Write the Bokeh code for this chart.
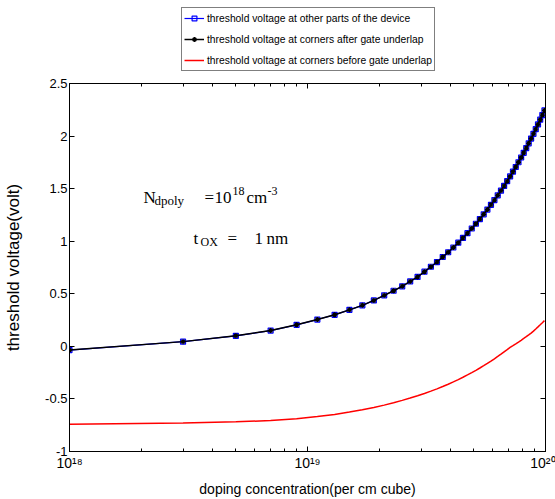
from bokeh.plotting import figure
from bokeh.layouts import column
from bokeh.models import (Range1d, LogAxis, LinearAxis, FixedTicker, Legend,
                          LegendItem, Label)
from bokeh.embed import file_html
from bokeh.resources import INLINE

# ---------------- data ----------------
doping_e18 = [1, 3, 5, 7, 9, 11, 13, 15, 17, 19, 21, 23, 25, 27, 29, 31, 33,
              35, 37, 39, 41, 43, 45, 47, 49, 51, 53, 55, 57, 59, 61, 63, 65,
              67, 69, 71, 73, 75, 77, 79, 81, 83, 85, 87, 89, 91, 93, 95, 97, 99]

vt_other = [-0.035, 0.045, 0.100, 0.150, 0.205, 0.255, 0.300, 0.347, 0.390,
            0.437, 0.485, 0.529, 0.571, 0.618, 0.660, 0.710, 0.757, 0.802,
            0.850, 0.895, 0.940, 0.986, 1.031, 1.076, 1.121, 1.166, 1.211,
            1.256, 1.301, 1.346, 1.391, 1.436, 1.481, 1.526, 1.571, 1.616,
            1.661, 1.706, 1.751, 1.796, 1.841, 1.886, 1.931, 1.976, 2.021,
            2.066, 2.111, 2.156, 2.200, 2.244]

vt_corner_after = [-0.035, 0.045, 0.100, 0.150, 0.205, 0.255, 0.300, 0.347,
                   0.390, 0.437, 0.485, 0.529, 0.571, 0.618, 0.660, 0.710,
                   0.757, 0.802, 0.850, 0.895, 0.940, 0.986, 1.031, 1.076,
                   1.121, 1.166, 1.211, 1.256, 1.301, 1.346, 1.391, 1.436,
                   1.481, 1.526, 1.571, 1.616, 1.661, 1.706, 1.751, 1.796,
                   1.841, 1.886, 1.931, 1.976, 2.021, 2.066, 2.111, 2.156,
                   2.200, 2.244]

vt_corner_before = [-0.740, -0.730, -0.718, -0.705, -0.688, -0.668, -0.647,
                    -0.625, -0.603, -0.581, -0.559, -0.537, -0.514, -0.492,
                    -0.470, -0.448, -0.426, -0.404, -0.382, -0.360, -0.338,
                    -0.316, -0.294, -0.272, -0.250, -0.228, -0.206, -0.184,
                    -0.162, -0.140, -0.118, -0.096, -0.074, -0.052, -0.031,
                    -0.010, 0.007, 0.024, 0.041, 0.058, 0.075, 0.092, 0.109,
                    0.126, 0.145, 0.165, 0.185, 0.205, 0.225, 0.245]

x_ticks = [1e18, 1e19, 1e20]
x_tick_labels = ["10\u00b9\u2078", "10\u00b9\u2079", "10\u00b2\u2070"]
x_minor_ticks = [k * 10.0 ** e for e in (18, 19) for k in range(2, 10)]
y_ticks = [-1, -0.5, 0, 0.5, 1, 1.5, 2, 2.5]
y_tick_labels = ["-1", "-0.5", "0", "0.5", "1", "1.5", "2", "2.5"]

legend_labels = ["threshold voltage at other parts of the device",
                 "threshold voltage at corners after gate underlap",
                 "threshold voltage at corners before gate underlap"]
x_title = "doping concentration(per cm cube)"
y_title = "threshold voltage(volt)"

doping = [d * 1e18 for d in doping_e18]

SANS = "Liberation Sans"
SERIF = "Liberation Serif"

# ---------------- main plot ----------------
p = figure(width=555, height=427, x_axis_type="log",
           x_range=Range1d(1e18, 1e20), y_range=Range1d(-1, 2.5),
           output_backend="svg", toolbar_location=None,
           min_border_left=69, min_border_right=10,
           min_border_top=11, min_border_bottom=48)
p.xgrid.visible = False
p.ygrid.visible = False
p.outline_line_color = "black"
p.outline_line_width = 1
p.background_fill_color = "white"
p.border_fill_color = "white"

xticker = FixedTicker(ticks=x_ticks, minor_ticks=x_minor_ticks)
yticker = FixedTicker(ticks=y_ticks)


def style_axis(ax, show_labels, minor=True):
    ax.axis_line_color = "black"
    ax.axis_line_width = 1
    ax.major_tick_line_color = "black"
    ax.major_tick_in = 5
    ax.major_tick_out = 0
    if minor:
        ax.minor_tick_line_color = "black"
        ax.minor_tick_in = 3
        ax.minor_tick_out = 0
    else:
        ax.minor_tick_line_color = None
    ax.major_label_text_color = "black"
    ax.major_label_text_font = SANS
    ax.major_label_text_font_size = "13px"
    if not show_labels:
        ax.major_label_text_color = None
        ax.major_label_text_alpha = 0
        ax.major_label_text_font_size = "1px"
        ax.major_label_standoff = 0


xa = p.xaxis[0]
xa.ticker = xticker
xa.major_label_overrides = dict(zip(x_ticks, x_tick_labels))
style_axis(xa, True)
xa.major_label_text_font_size = "14px"
xa.major_label_standoff = 3
xa.axis_label = x_title
xa.axis_label_text_font = SANS
xa.axis_label_text_font_size = "14px"
xa.axis_label_text_font_style = "normal"
xa.axis_label_text_color = "black"
xa.axis_label_standoff = 7

ya = p.yaxis[0]
ya.ticker = yticker
ya.major_label_overrides = dict(zip(y_ticks, y_tick_labels))
style_axis(ya, True, minor=False)
ya.major_label_standoff = 2
ya.axis_label = y_title
ya.axis_label_text_font = SANS
ya.axis_label_text_font_size = "17px"
ya.axis_label_text_font_style = "normal"
ya.axis_label_text_color = "black"
ya.axis_label_standoff = 19

top = LogAxis(ticker=xticker)
style_axis(top, False)
p.add_layout(top, "above")

right = LinearAxis(ticker=yticker)
style_axis(right, False, minor=False)
p.add_layout(right, "right")

# ---------------- series ----------------
blue_line = dict(line_color="blue", line_width=1.2)
blue_mark = dict(marker="square", size=5, line_color="blue",
                 fill_color=None, line_width=1.2)
black_line = dict(line_color="black", line_width=1.5)
black_mark = dict(marker="asterisk", size=5, line_color="black",
                  line_width=1.3)
red_line = dict(line_color="red", line_width=1.5)

p.line(doping, vt_other, **blue_line)
p.scatter(doping, vt_other, **blue_mark)
p.line(doping, vt_corner_after, **black_line)
p.scatter(doping, vt_corner_after, **black_mark)
p.line(doping, vt_corner_before, **red_line)

# ---------------- annotation text ----------------
def note(text, dx, dy, size, font=SERIF):
    p.add_layout(Label(x=1e18, y=-1, x_offset=dx, y_offset=dy, text=text,
                       text_font=font, text_font_size=size,
                       text_color="black", text_baseline="alphabetic"))


note("N", 74, 254, "17px")
note("dpoly", 85, 251, "13px")
note("=", 135, 254, "17px")
note("10", 145, 254, "17px")
note("18", 163, 261, "12px")
note("cm", 177, 254, "17px")
note("-3", 198, 261, "12px")

note("t", 124, 213, "17px")
note("OX", 131, 210, "12px")
note("=", 158, 213, "17px")
note("1", 185, 213, "17px")
note("nm", 197, 213, "17px")

# ---------------- legend strip above the axes ----------------
# (the same series are drawn here outside the visible range; only the
#  legend of this strip is visible)
lg = figure(width=555, height=72, x_range=Range1d(0, 1), y_range=Range1d(0, 1),
            output_backend="svg", toolbar_location=None,
            x_axis_location=None, y_axis_location=None,
            min_border=0, outline_line_color=None)
lg.xgrid.visible = False
lg.ygrid.visible = False
lg.border_fill_color = "white"
lg.background_fill_color = "white"
e_bl = lg.line(doping, vt_other, **blue_line)
e_bm = lg.scatter(doping, vt_other, **blue_mark)
e_kl = lg.line(doping, vt_corner_after, **black_line)
e_km = lg.scatter(doping, vt_corner_after, **black_mark)
e_r = lg.line(doping, vt_corner_before, **red_line)

legend = Legend(items=[
    LegendItem(label=legend_labels[0], renderers=[e_bl, e_bm]),
    LegendItem(label=legend_labels[1], renderers=[e_kl, e_km]),
    LegendItem(label=legend_labels[2], renderers=[e_r]),
], location=(112, 1))
legend.border_line_color = "black"
legend.border_line_width = 1
legend.background_fill_color = "white"
legend.background_fill_alpha = 1
legend.label_text_font = SANS
legend.label_text_font_size = "10.3px"
legend.label_text_color = "black"
legend.glyph_width = 20
legend.glyph_height = 12
legend.label_height = 16
legend.label_standoff = 3
legend.spacing = 5
legend.padding = 2
legend.margin = 0
lg.add_layout(legend)

layout = column(lg, p, spacing=0)
open("out.html", "w").write(file_html(layout, INLINE))
